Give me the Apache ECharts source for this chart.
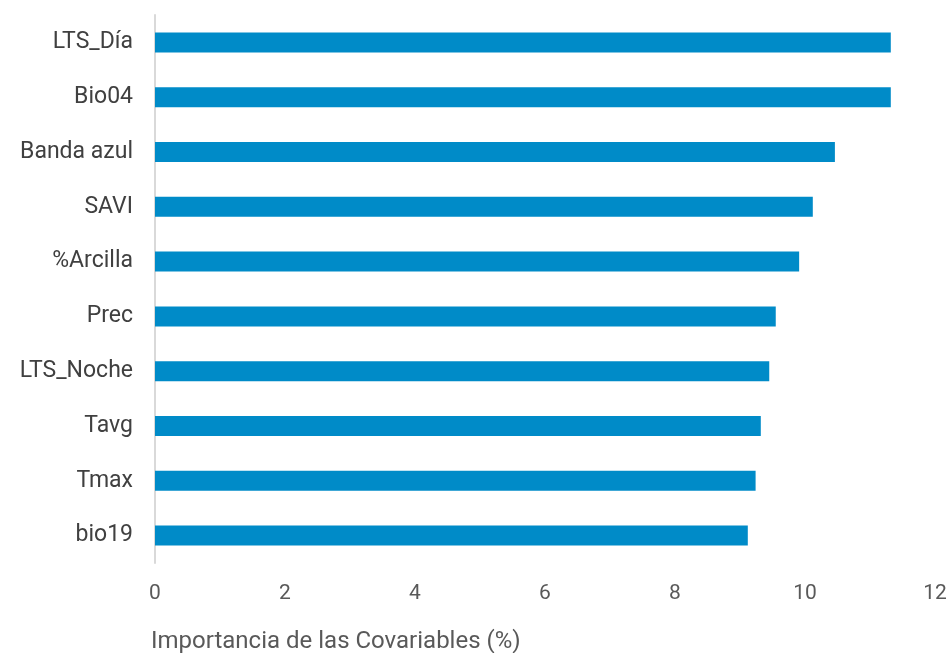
<!DOCTYPE html>
<html>
<head>
<meta charset="utf-8">
<script src="https://cdn.jsdelivr.net/npm/echarts@6/dist/echarts.min.js"></script>
<style>html,body{margin:0;padding:0;background:#fff;}#c{width:952px;height:653px;}</style>
</head>
<body>
<div id="c"></div>
<script>
const categories = ['LTS_Día', 'Bio04', 'Banda azul', 'SAVI', '%Arcilla', 'Prec', 'LTS_Noche', 'Tavg', 'Tmax', 'bio19'];
const importance = [11.32, 11.32, 10.46, 10.12, 9.91, 9.55, 9.45, 9.32, 9.24, 9.12];
const xTicks = [0, 2, 4, 6, 8, 10, 12];
const axisTitle = 'Importancia de las Covariables (%)';

const chart = echarts.init(document.getElementById('c'));
chart.setOption({
  animation: false,
  title: {
    text: axisTitle,
    left: 146,
    top: 625,
    textStyle: { fontFamily: 'Roboto', fontSize: 24, fontWeight: 'normal', color: '#595959' }
  },
  grid: { left: 155, right: 17, top: 15, bottom: 90, containLabel: false },
  xAxis: {
    type: 'value',
    min: xTicks[0],
    max: xTicks[xTicks.length - 1],
    interval: 2,
    splitLine: { show: false },
    axisLine: { show: false },
    axisTick: { show: false },
    axisLabel: { margin: 20, fontFamily: 'Roboto', fontSize: 21, color: '#595959' }
  },
  yAxis: {
    type: 'category',
    inverse: true,
    data: categories,
    axisLine: { show: true, lineStyle: { color: '#D9D9D9', width: 2 } },
    axisTick: { show: false },
    axisLabel: { margin: 22, fontFamily: 'Roboto', fontSize: 23, color: '#404040' }
  },
  series: [{
    type: 'bar',
    data: importance,
    barWidth: 20,
    itemStyle: { color: '#008BC8' }
  }]
});
</script>
</body>
</html>
